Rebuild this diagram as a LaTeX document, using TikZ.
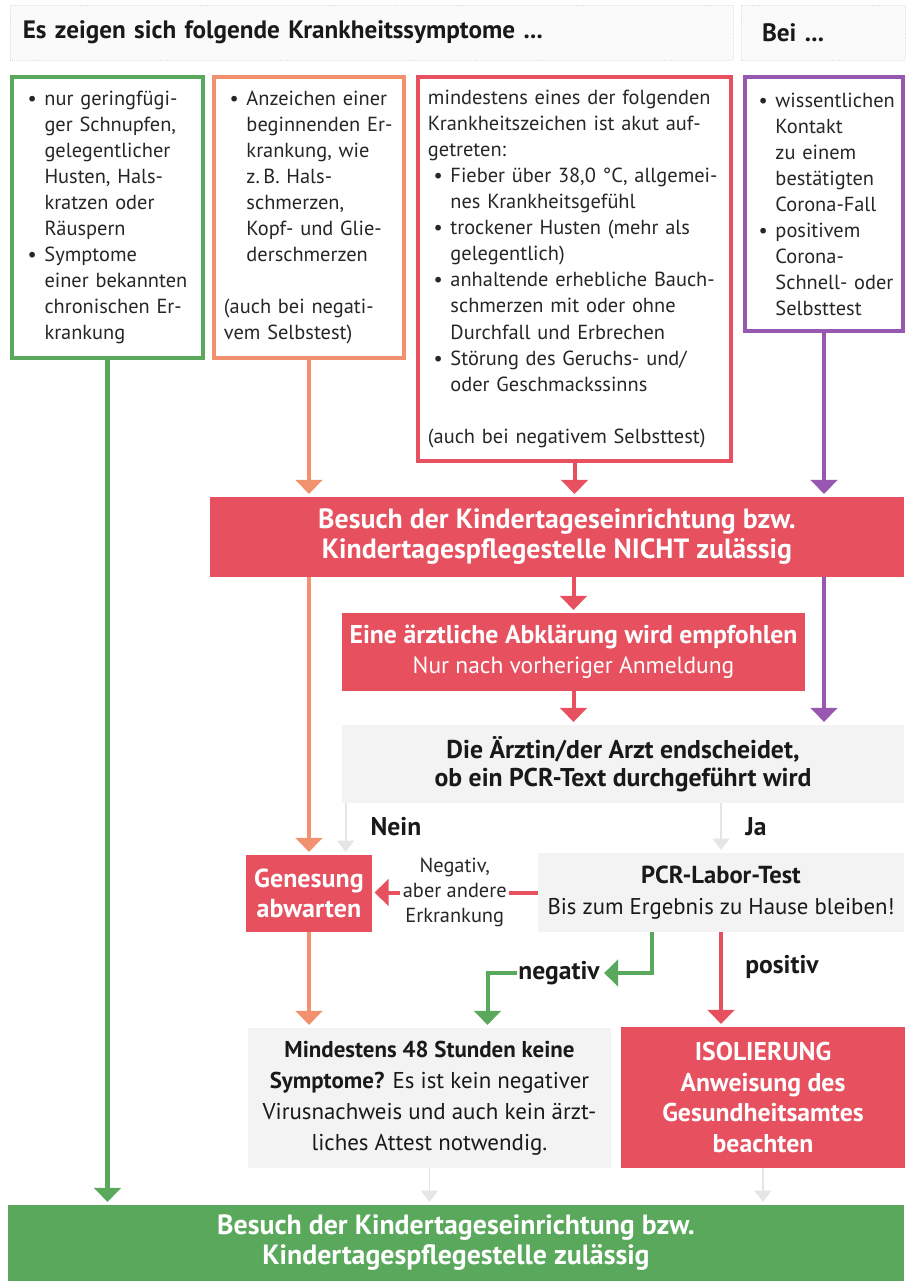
\documentclass[tikz,border=0pt]{standalone}
\usepackage{fontspec}
\setmainfont{PT Sans}
\usepackage{tikz}
\usetikzlibrary{arrows.meta,positioning,calc}

\definecolor{kgreen}{RGB}{90,168,92}
\definecolor{korange}{RGB}{242,145,112}
\definecolor{kred}{RGB}{230,80,95}
\definecolor{kpurple}{RGB}{152,88,178}
\definecolor{kgray}{RGB}{243,243,243}

\newcommand{\itm}{\makebox[16pt][l]{\hspace{4pt}\textbullet}}
\newcommand{\ein}{\hspace*{16pt}}

\begin{document}
\begin{tikzpicture}
	[
		x=0.025cm, y=-0.025cm,
		H/.style = {rectangle, align=left, draw=gray!25, fill=gray!4, densely dotted, minimum height=39.1pt, text=black!90, font=\fontsize{17.9}{21}\selectfont\bfseries},
		S/.style = {rectangle, align=left, draw=#1, fill=white, line width=2.85pt, inner xsep=0pt, inner ysep=0pt, text=black!85, font=\fontsize{14.5}{18.5}\selectfont},
		B/.style = {rectangle, align=center, draw=none, fill=#1, inner sep=0pt, text=white, font=\fontsize{19.8}{21.3}\selectfont\bfseries},
		G/.style = {rectangle, align=center, draw=none, fill=kgray, inner sep=0pt, text=black!90},
		L/.style = {rectangle, align=center, inner sep=1pt, text=black!90, font=\fontsize{18.2}{21}\selectfont\bfseries},
		arr/.style = {draw=#1, line width=2.85pt, -{Triangle[width=19pt,length=10pt]}, shorten >=2pt},
		faint/.style = {draw=gray!20, line width=1.4pt, -{Triangle[width=12pt,length=8pt]}, shorten >=2pt},
	]

	\useasboundingbox (0,0) rectangle (906,1281);

	% header
	\node[H, minimum width=514.3pt, text width=495.9pt] (hdr) at (371.5, 32.5) {Es zeigen sich folgende Krankheitssymptome ...};
	\node[H, minimum width=116.7pt, text width=86.7pt] (bei) at (823, 32.5) {Bei ...};

	% symptom boxes
	\node[S=kgreen, minimum width=135.9pt, minimum height=199.9pt, text width=121.6pt] (leicht) at (107.5, 217.5)
		{\itm nur geringfügi-\\\ein ger Schnupfen,\\\ein gelegentlicher\\\ein Husten, Hals-\\\ein kratzen oder\\\ein Räuspern\\
		 \itm Symptome\\\ein einer bekannten\\\ein chronischen Er-\\\ein krankung};
	\node[S=korange, minimum width=135.1pt, minimum height=199.9pt, text width=120.9pt] (anzeichen) at (309, 217.5)
		{\itm Anzeichen einer\\\ein beginnenden Er-\\\ein krankung, wie\\\ein z.\,B. Hals-\\\ein schmerzen,\\\ein Kopf- und Glie-\\\ein derschmerzen\\[18.5pt]
		 (auch bei negati-\\vem Selbstest)};
	\node[S=kred, minimum width=222.6pt, minimum height=273.1pt, text width=208.4pt] (akut) at (574.5, 269)
		{mindestens eines der folgenden\\Krankheitszeichen ist akut auf-\\getreten:\\
		 \itm Fieber über 38,0 °C, allgemei-\\\ein nes Krankheitsgefühl\\
		 \itm trockener Husten (mehr als\\\ein gelegentlich)\\
		 \itm anhaltende erhebliche Bauch-\\\ein schmerzen mit oder ohne\\\ein Durchfall und Erbrechen\\
		 \itm Störung des Geruchs- und/\\\ein oder Geschmackssinns\\[18.5pt]
		 (auch bei negativem Selbsttest)};
	\node[S=kpurple, minimum width=112.4pt, minimum height=180.7pt, text width=101pt] (kontakt) at (824, 204)
		{\itm wissentlichen\\\ein Kontakt\\\ein zu einem\\\ein bestätigten\\\ein Corona-Fall\\
		 \itm positivem\\\ein Corona-\\\ein Schnell- oder\\\ein Selbsttest};

	% decisions
	\node[B=kred, minimum width=493.7pt, minimum height=56.9pt] (bar) at (557, 537)
		{Besuch der Kindertageseinrichtung bzw.\\Kindertagespflegestelle NICHT zulässig};
	\node[B=kred, minimum width=329.3pt, minimum height=55.5pt, font=\fontsize{18.3}{21.3}\selectfont\bfseries] (eine) at (573.5, 652)
		{Eine ärztliche Abklärung wird empfohlen\\{\fontsize{16.7}{21.3}\selectfont\mdseries Nur nach vorheriger Anmeldung}};
	\node[G, minimum width=399.8pt, minimum height=55.5pt, font=\fontsize{18.3}{20}\selectfont\bfseries] (arzt) at (623, 764)
		{Die Ärztin/der Arzt endscheidet,\\ob ein PCR-Text durchgeführt wird};
	\node[B=kred, minimum width=88.9pt, minimum height=54.8pt, font=\fontsize{18.5}{21.3}\selectfont\bfseries] (gen) at (309, 893.5)
		{Genesung\\abwarten};
	\node[G, minimum width=260.3pt, minimum height=56.2pt, font=\fontsize{16.2}{22.5}\selectfont] (pcr) at (721, 892.5)
		{{\fontsize{17.5}{22.5}\selectfont\bfseries PCR-Labor-Test}\\Bis zum Ergebnis zu Hause bleiben!};
	\node[G, minimum width=258.2pt, minimum height=99.6pt, font=\fontsize{16.3}{22}\selectfont] (mind) at (429.5, 1098)
		{\textbf{Mindestens 48 Stunden keine}\\\textbf{Symptome?} Es ist kein negativer\\Virusnachweis und auch kein ärzt-\\liches Attest notwendig.};
	\node[B=kred, minimum width=202pt, minimum height=100.3pt, font=\fontsize{18.3}{22}\selectfont\bfseries] (iso) at (763, 1097.5)
		{ISOLIERUNG\\Anweisung des\\Gesundheitsamtes\\beachten};
	\node[B=kgreen, minimum width=637.3pt, minimum height=54.1pt] (ok) at (456, 1243)
		{Besuch der Kindertageseinrichtung bzw.\\Kindertagespflegestelle zulässig};

	% branch labels
	\node[L] (nein) at (396, 827) {Nein};
	\node[L] (ja)   at (756, 827) {Ja};
	\node[L] (pos)  at (782, 967) {positiv};
	\node[L] (neg)  at (559, 973) {negativ};

	\foreach \from/\to/\c in {leicht/ok/kgreen, anzeichen/bar/korange, akut/bar/kred, kontakt/bar/kpurple, eine/arzt/kred, gen/mind/korange, pcr/iso/kred}
	\draw[arr=\c] (\from.south) -- (\from.south |- \to.north);

	\foreach \from/\to/\c in {anzeichen/gen/korange, eine/eine/kred, kontakt/arzt/kpurple}
	\draw[arr=\c] (\from.south |- bar.south) -- (\from.south |- \to.north);

	\draw[arr=kred] (pcr.west) -- node[fill=white, inner sep=2pt, align=center, text=black!85, font=\fontsize{14.5}{17.8}\selectfont] (andere) {Negativ,\\aber andere\\Erkrankung} (pcr.west -| gen.east);
	\draw[arr=kgreen] ($(pcr.south)+(-69,0)$) |- (neg.east);
	\draw[arr=kgreen] (neg.west) -| ($(mind.north)+(58,0)$);

	\coordinate (nx) at ($(arzt.south west)+(4,0)$);
	\draw[faint] (nx) -- (nx |- gen.north);
	\draw[faint] (pcr.north |- arzt.south) -- (pcr.north);
	\foreach \from in {mind,iso}
	\draw[faint] (\from.south) -- (\from.south |- ok.north);

\end{tikzpicture}
\end{document}
